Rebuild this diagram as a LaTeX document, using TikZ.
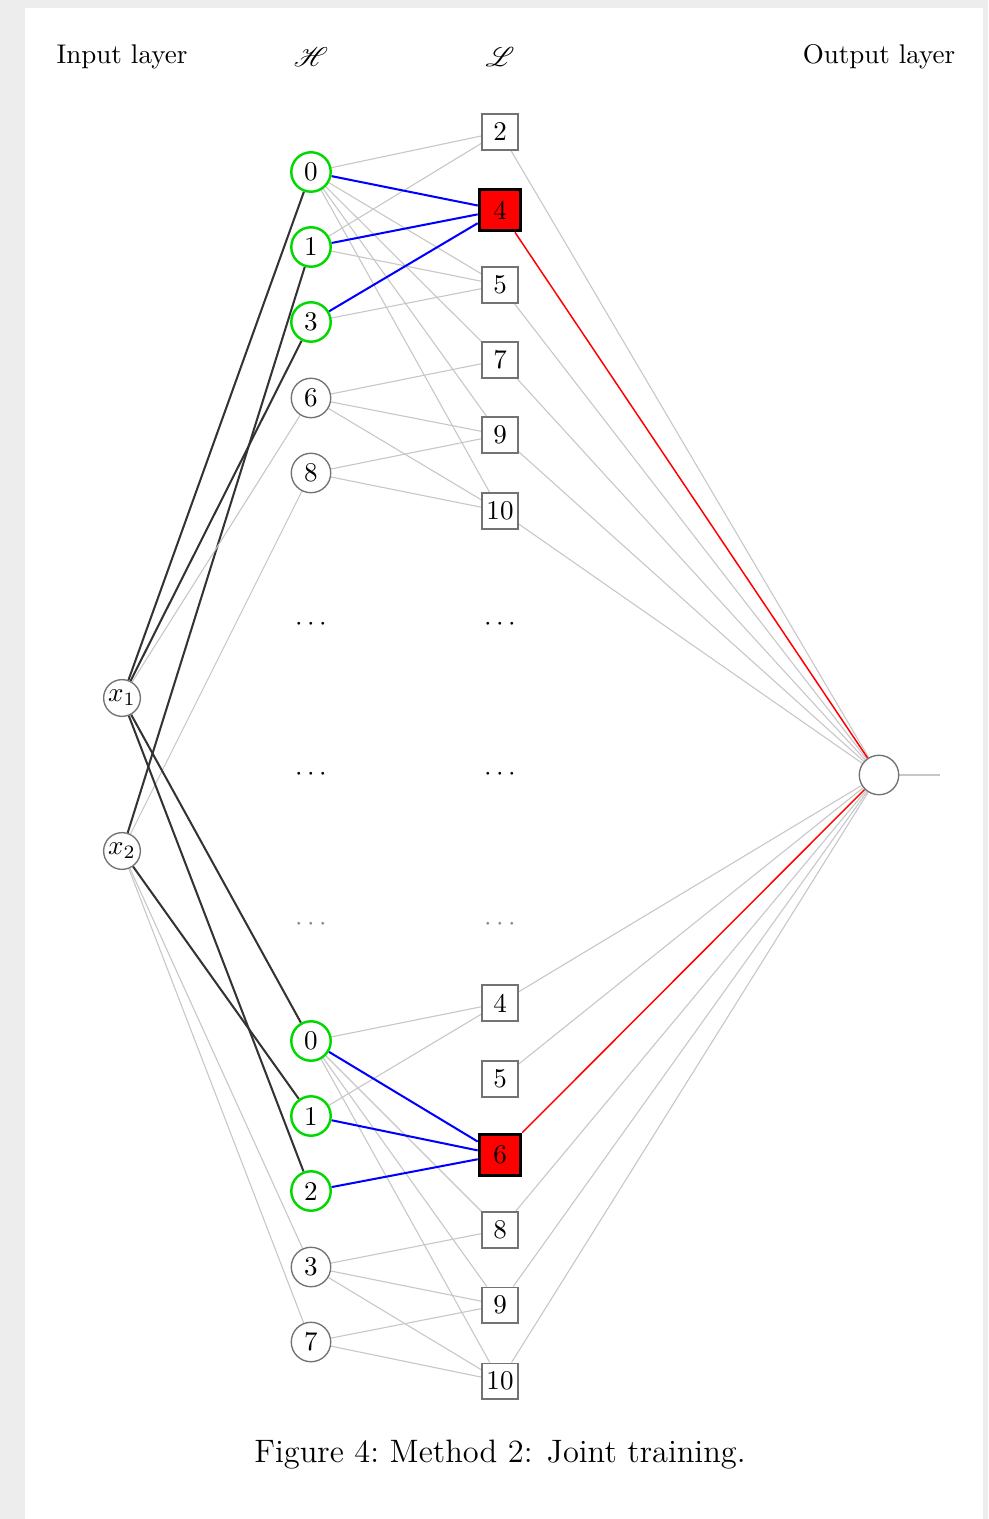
\documentclass[tikz,border=0pt]{standalone}
\usepackage{mathrsfs}
\usetikzlibrary{backgrounds}
\begin{document}
\begin{tikzpicture}[x=0.37pt,y=-0.37pt,
  hnode/.style={circle,draw=black!55,fill=white,minimum size=14.6pt,inner sep=0pt,line width=0.5pt},
  hsel/.style={hnode,draw=green!85!black,line width=0.9pt},
  lnode/.style={rectangle,draw=black!55,fill=white,minimum size=13.2pt,inner sep=0pt,line width=0.5pt},
  lsel/.style={lnode,fill=red,draw=black,line width=1.1pt,minimum size=15.4pt},
  inp/.style={circle,draw=black!55,fill=white,minimum size=13.6pt,inner sep=0pt,line width=0.5pt},
  outn/.style={circle,draw=black!55,fill=white,minimum size=14.6pt,inner sep=0pt,line width=0.5pt},
  wgray/.style={draw=black!22,line width=0.4pt},
  wblue/.style={draw=blue,line width=0.75pt},
  wred/.style={draw=red,line width=0.55pt},
  wdark/.style={draw=black!80,line width=0.75pt},
  lbl/.style={inner sep=0pt},
  dotsn/.style={inner sep=0pt}]
% page
\begin{scope}[on background layer]
\fill[black!7] (0,0) rectangle (988,1519);
\fill[white] (25,8) rectangle (983,1519);
\end{scope}
% headers
\node[lbl] (hin) at (122,57) {Input layer};
\node[lbl] (hh) at (311,57) {$\mathscr{H}$};
\node[lbl] (hl) at (500,57) {$\mathscr{L}$};
\node[lbl] (hout) at (879,57) {Output layer};
% input
\node[inp] (x1) at (122,698) {$x_1$};
\node[inp] (x2) at (122,851) {$x_2$};
% H top
\node[hsel] (h0) at (311,172) {0};
\node[hsel] (h1) at (311,247) {1};
\node[hsel] (h3) at (311,322) {3};
\node[hnode] (h6) at (311,398) {6};
\node[hnode] (h8) at (311,473) {8};
% H bottom
\node[hsel] (g0) at (311,1041) {0};
\node[hsel] (g1) at (311,1116) {1};
\node[hsel] (g2) at (311,1191) {2};
\node[hnode] (g3) at (311,1267) {3};
\node[hnode] (g7) at (311,1342) {7};
% L top
\node[lnode] (l2) at (500,132) {2};
\node[lsel] (l4) at (500,210) {4};
\node[lnode] (l5) at (500,285) {5};
\node[lnode] (l7) at (500,360) {7};
\node[lnode] (l9) at (500,435) {9};
\node[lnode] (l10) at (500,511) {10};
% L bottom
\node[lnode] (m4) at (500,1003) {4};
\node[lnode] (m5) at (500,1079) {5};
\node[lsel] (m6) at (500,1155) {6};
\node[lnode] (m8) at (500,1230) {8};
\node[lnode] (m9) at (500,1305) {9};
\node[lnode] (m10) at (500,1381) {10};
% dots
\node[dotsn] (hd1) at (311,624) {$\cdots$};
\node[dotsn] (hd2) at (311,774) {$\cdots$};
\node[dotsn,text=black!45] (hd3) at (311,924) {$\cdots$};
\node[dotsn] (ld1) at (500,624) {$\cdots$};
\node[dotsn] (ld2) at (500,774) {$\cdots$};
\node[dotsn,text=black!45] (ld3) at (500,924) {$\cdots$};
% output
\node[outn] (out) at (879,775) {};
\coordinate (oend) at (940,775);
% caption
\node[lbl,font=\large] (cap) at (500,1455) {Figure 4:\ Method 2: Joint training.};

\begin{scope}[on background layer]
% input -> H
\draw[wdark] (x1) -- (h0);
\draw[wdark] (x1) -- (h3);
\draw[wdark] (x2) -- (h1);
\draw[wgray] (x1) -- (h6);
\draw[wgray] (x2) -- (h8);
\draw[wdark] (x1) -- (g0);
\draw[wdark] (x1) -- (g2);
\draw[wdark] (x2) -- (g1);
\draw[wgray] (x2) -- (g3);
\draw[wgray] (x2) -- (g7);
% H -> L top
\draw[wgray] (h0) -- (l2);
\draw[wgray] (h0) -- (l5);
\draw[wgray] (h0) -- (l7);
\draw[wgray] (h0) -- (l9);
\draw[wgray] (h0) -- (l10);
\draw[wgray] (h1) -- (l2);
\draw[wgray] (h1) -- (l5);
\draw[wgray] (h3) -- (l5);
\draw[wgray] (h6) -- (l7);
\draw[wgray] (h6) -- (l9);
\draw[wgray] (h6) -- (l10);
\draw[wgray] (h8) -- (l9);
\draw[wgray] (h8) -- (l10);
\draw[wblue] (h0) -- (l4);
\draw[wblue] (h1) -- (l4);
\draw[wblue] (h3) -- (l4);
% H -> L bottom
\draw[wgray] (g0) -- (m4);
\draw[wgray] (g0) -- (m8);
\draw[wgray] (g0) -- (m9);
\draw[wgray] (g0) -- (m10);
\draw[wgray] (g1) -- (m4);
\draw[wgray] (g3) -- (m8);
\draw[wgray] (g3) -- (m9);
\draw[wgray] (g3) -- (m10);
\draw[wgray] (g7) -- (m9);
\draw[wgray] (g7) -- (m10);
\draw[wblue] (g0) -- (m6);
\draw[wblue] (g1) -- (m6);
\draw[wblue] (g2) -- (m6);
% L -> output
\draw[wgray] (l2) -- (out);
\draw[wgray] (l5) -- (out);
\draw[wgray] (l7) -- (out);
\draw[wgray] (l9) -- (out);
\draw[wgray] (l10) -- (out);
\draw[wgray] (m4) -- (out);
\draw[wgray] (m5) -- (out);
\draw[wgray] (m8) -- (out);
\draw[wgray] (m9) -- (out);
\draw[wgray] (m10) -- (out);
\draw[wred] (l4) -- (out);
\draw[wred] (m6) -- (out);
\draw[wgray] (out) -- (oend);
\end{scope}
\end{tikzpicture}
\end{document}
